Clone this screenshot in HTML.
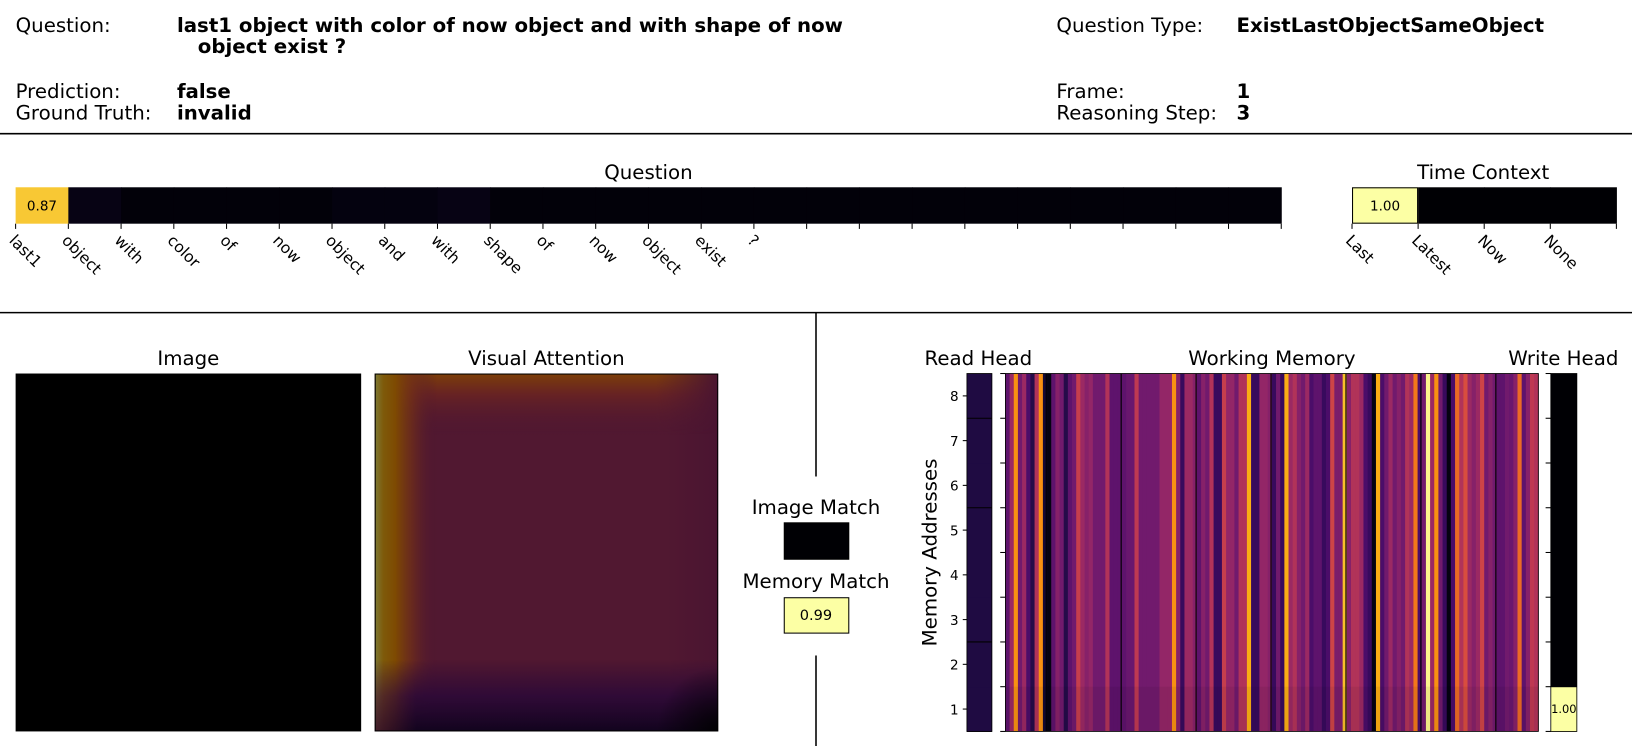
<!DOCTYPE html>
<html><head><meta charset="utf-8">
<style>
html,body{margin:0;padding:0;background:#fff;}
svg{display:block;font-family:"DejaVu Sans","Liberation Sans",sans-serif;}
</style></head>
<body>
<svg id="fig" width="1632" height="746" viewBox="0 0 1568 717" preserveAspectRatio="none" xmlns="http://www.w3.org/2000/svg">
<defs>
  <linearGradient id="gTop" x1="0" y1="0" x2="0" y2="1">
    <stop offset="0" stop-color="#7e4008" stop-opacity="1"/>
    <stop offset="0.06" stop-color="#6e2620" stop-opacity="0.75"/>
    <stop offset="0.17" stop-color="#511831" stop-opacity="0"/>
  </linearGradient>
  <linearGradient id="gTopFade" x1="0" y1="0" x2="1" y2="0">
    <stop offset="0" stop-color="#fff" stop-opacity="1"/>
    <stop offset="0.82" stop-color="#fff" stop-opacity="1"/>
    <stop offset="1" stop-color="#fff" stop-opacity="0"/>
  </linearGradient>
  <mask id="mTop"><rect x="360" y="359" width="330" height="344" fill="url(#gTopFade)"/></mask>
  <linearGradient id="gLeft" x1="0" y1="0" x2="1" y2="0">
    <stop offset="0" stop-color="#7d7a35"/>
    <stop offset="0.025" stop-color="#7e5a0a"/>
    <stop offset="0.06" stop-color="#7e4a02"/>
    <stop offset="0.11" stop-color="#713018" stop-opacity="0.7"/>
    <stop offset="0.18" stop-color="#511831" stop-opacity="0"/>
  </linearGradient>
  <linearGradient id="gLeftFade" x1="0" y1="0" x2="0" y2="1">
    <stop offset="0" stop-color="#fff"/>
    <stop offset="0.8" stop-color="#fff"/>
    <stop offset="1" stop-color="#fff" stop-opacity="0.2"/>
  </linearGradient>
  <mask id="mLeft"><rect x="360" y="359" width="330" height="344" fill="url(#gLeftFade)"/></mask>
  <linearGradient id="gBot" x1="0" y1="0" x2="0" y2="1">
    <stop offset="0.8" stop-color="#2a0838" stop-opacity="0"/>
    <stop offset="0.9" stop-color="#2a0838" stop-opacity="0.85"/>
    <stop offset="1" stop-color="#12041e" stop-opacity="1"/>
  </linearGradient>
  <linearGradient id="gBotFade" x1="0" y1="0" x2="1" y2="0">
    <stop offset="0" stop-color="#fff" stop-opacity="0.3"/>
    <stop offset="0.12" stop-color="#fff" stop-opacity="1"/>
    <stop offset="1" stop-color="#fff" stop-opacity="1"/>
  </linearGradient>
  <mask id="mBot"><rect x="360" y="359" width="330" height="344" fill="url(#gBotFade)"/></mask>
  <linearGradient id="gRight" x1="0" y1="0" x2="1" y2="0">
    <stop offset="0.85" stop-color="#3a0c30" stop-opacity="0"/>
    <stop offset="1" stop-color="#3a0c30" stop-opacity="0.3"/>
  </linearGradient>
  <radialGradient id="gBR" cx="1" cy="1" r="0.18">
    <stop offset="0" stop-color="#000" stop-opacity="0.9"/>
    <stop offset="1" stop-color="#000" stop-opacity="0"/>
  </radialGradient>
</defs>

<g font-size="19">
  <text x="15" y="31">Question:</text>
  <text x="170" y="31" font-weight="bold">last1 object with color of now object and with shape of now</text>
  <text x="190" y="51" font-weight="bold">object exist ?</text>
  <text x="15" y="94">Prediction:</text>
  <text x="170" y="94" font-weight="bold">false</text>
  <text x="15" y="115">Ground Truth:</text>
  <text x="170" y="115" font-weight="bold">invalid</text>
  <text x="1015" y="31">Question Type:</text>
  <text x="1188" y="31" font-weight="bold">ExistLastObjectSameObject</text>
  <text x="1015" y="94">Frame:</text>
  <text x="1188" y="94" font-weight="bold">1</text>
  <text x="1015" y="115">Reasoning Step:</text>
  <text x="1188" y="115" font-weight="bold">3</text>
</g>
<line x1="0" y1="128.5" x2="1568" y2="128.5" stroke="#000" stroke-width="1.5"/>
<line x1="0" y1="300.5" x2="1568" y2="300.5" stroke="#000" stroke-width="1.5"/>
<line x1="784" y1="300" x2="784" y2="458" stroke="#000" stroke-width="1.5"/>
<line x1="784" y1="630" x2="784" y2="717" stroke="#000" stroke-width="1.5"/>

<text x="623" y="172" font-size="19" text-anchor="middle">Question</text>
<g id="qbar"></g>
<text x="1425" y="172" font-size="19" text-anchor="middle">Time Context</text>
<g id="tbar"></g>

<text x="181" y="351" font-size="19" text-anchor="middle">Image</text>
<rect x="15.5" y="359.5" width="331" height="343" fill="#000" stroke="#000"/>

<text x="525" y="351" font-size="19" text-anchor="middle">Visual Attention</text>
<g>
  <rect x="360" y="359" width="330" height="344" fill="#511831"/>
  <rect x="360" y="359" width="330" height="344" fill="url(#gRight)"/>
  <rect x="360" y="359" width="330" height="344" fill="url(#gTop)" mask="url(#mTop)"/>
  <rect x="360" y="359" width="330" height="344" fill="url(#gLeft)" mask="url(#mLeft)"/>
  <rect x="360" y="359" width="330" height="344" fill="url(#gBot)" mask="url(#mBot)"/>
  <rect x="360" y="359" width="330" height="344" fill="url(#gBR)"/>
  <rect x="360.5" y="359.5" width="329" height="343" fill="none" stroke="#000"/>
</g>

<text x="784" y="494" font-size="19" text-anchor="middle">Image Match</text>
<rect x="753.5" y="502.5" width="62" height="35" fill="#000004" stroke="#000"/>
<text x="784" y="565" font-size="19" text-anchor="middle">Memory Match</text>
<rect x="753.5" y="574.5" width="62" height="34" fill="#fcffa4" stroke="#000"/>
<text x="784" y="596" font-size="14" text-anchor="middle">0.99</text>

<text x="940" y="351" font-size="19" text-anchor="middle">Read Head</text>
<text x="1222" y="351" font-size="19" text-anchor="middle">Working Memory</text>
<text x="1502" y="351" font-size="19" text-anchor="middle">Write Head</text>
<text x="0" y="0" font-size="19" text-anchor="middle" transform="translate(900,531) rotate(-90)">Memory Addresses</text>
<g id="mem"></g>
</svg>

<script>
const questionWords = ["last1","object","with","color","of","now","object","and","with","shape","of","now","object","exist","?"];
const questionAttention = [0.87,0.03,0.01,0.01,0.01,0.01,0.02,0.02,0.03,0.01,0.01,0.01,0.01,0.01,0.01,0.01,0.01,0.01,0.01,0.01,0.01,0.01,0.01,0.01];
const timeLabels = ["Last","Latest","Now","None"];
const timeAttention = [1.00,0.0,0.0,0.0];
const addressLabels = ["1","2","3","4","5","6","7","8"];
const readHead = [0.12,0.12,0.12,0.12,0.12,0.12,0.12,0.12];
const writeHead = [1.00,0.0,0.0,0.0,0.0,0.0,0.0,0.0];
const memoryColumns = [
0.35,0.5,0.8,0.4,0.5,0.3,0.2,0.55,0.8,0.15,0.05,0.35,0.45,0.4,0.2,0.35,0.4,0.6,0.5,0.45,0.48,0.4,0.4,0.4,0.55,0.35,0.35,0.35,
0.35,0.38,0.38,0.58,0.4,0.4,0.4,0.4,0.4,0.48,0.48,0.48,0.8,0.45,0.25,0.5,0.5,0.45,0.35,
0.45,0.4,0.55,0.25,0.25,0.6,0.48,0.48,0.4,0.55,0.55,0.85,0.25,0.25,0.48,0.48,0.45,0.25,0.4,0.25,0.85,0.5,0.55,0.45,0.4,0.5,0.3,0.35,0.35,0.25,0.3,0.62,0.42,0.42,0.88,0.45,0.55,0.55,0.5,0.3,0.25,0.05,0.85,0.3,0.4,
0.5,0.4,0.45,0.4,0.55,0.5,0.75,0.3,0.4,0.98,0.5,0.8,0.4,0.25,0.05,0.3,0.72,0.55,0.65,0.5,0.45,0.5,0.62,0.4,0.45,0.4,0.35,0.35,0.4,0.38,0.45,0.72,0.35,0.45,0.58,0.55];
const memorySeparators = [9.8,27.8,45.8,63.8,81.8,99.8,117.8];

const NS = "http://www.w3.org/2000/svg";
const stops = [[0,0,0,4],[0.1,22,11,57],[0.2,66,10,104],[0.3,106,23,110],[0.4,147,38,103],[0.5,188,55,84],[0.6,221,81,58],[0.7,243,120,25],[0.8,252,165,10],[0.9,246,215,70],[1,252,255,164]];
function inferno(v){
  v=Math.max(0,Math.min(1,v));
  for(let i=1;i<stops.length;i++){
    if(v<=stops[i][0]){
      const a=stops[i-1],b=stops[i],t=(v-a[0])/(b[0]-a[0]);
      return `rgb(${Math.round(a[1]+t*(b[1]-a[1]))},${Math.round(a[2]+t*(b[2]-a[2]))},${Math.round(a[3]+t*(b[3]-a[3]))})`;
    }
  }
  return "rgb(252,255,164)";
}
function memColor(v){ return inferno(Math.pow(Math.max(0,v),1.25)); }
function mk(tag, attrs, parent){
  const e=document.createElementNS(NS,tag);
  for(const k in attrs) e.setAttribute(k,attrs[k]);
  parent.appendChild(e); return e;
}

(function(){
  const g=document.getElementById('qbar');
  const x0=15,x1=1231,y0=180,h=35;
  const cw=(x1-x0)/questionAttention.length;
  const xs=i=>x0+i*cw;
  questionAttention.forEach((v,i)=>{
    const r=mk('rect',{x:xs(i),y:y0,width:cw+0.5,height:h,fill:inferno(v)},g);
    
    
    if(v>0.5){
      const t=mk('text',{x:xs(i)+cw/2,y:y0+h/2+5,'font-size':13,'text-anchor':'middle'},g);
      
      
      t.textContent=v.toFixed(2);
    }
  });
  for(let i=0;i<=questionAttention.length;i++){
    const l=mk('line',{x1:xs(i),y1:y0+h,x2:xs(i),y2:y0+h+5,stroke:'#000','stroke-width':1},g);
    
    
  }
  questionWords.forEach((w,i)=>{
    const t=mk('text',{x:0,y:0,'font-size':15,transform:`translate(${xs(i)-7},${y0+h+17}) rotate(45)`},g);
    
    
    t.textContent=w;
  });
})();

(function(){
  const g=document.getElementById('tbar');
  const x0=1299,x1=1553,y0=180,h=35;
  const cw=(x1-x0)/timeAttention.length;
  const xs=i=>x0+i*cw;
  timeAttention.forEach((v,i)=>{
    const r=mk('rect',{x:xs(i),y:y0,width:cw+0.5,height:h,fill:inferno(v)},g);
    
    
    if(v>0.5){
      const t=mk('text',{x:xs(i)+cw/2,y:y0+h/2+5,'font-size':13,'text-anchor':'middle'},g);
      
      
      t.textContent=v.toFixed(2);
    }
  });
  mk('rect',{x:x0+0.5,y:y0+0.5,width:cw-1,height:h-1,fill:'none',stroke:'#000'},g);
  for(let i=0;i<=timeAttention.length;i++){
    const l=mk('line',{x1:xs(i),y1:y0+h,x2:xs(i),y2:y0+h+5,stroke:'#000'},g);
    
    
  }
  timeLabels.forEach((w,i)=>{
    const t=mk('text',{x:0,y:0,'font-size':15,transform:`translate(${xs(i)-7},${y0+h+17}) rotate(45)`},g);
    
    
    t.textContent=w;
  });
})();

(function(){
  const g=document.getElementById('mem');
  const y0=359,y1=703,n=addressLabels.length,rh=(y1-y0)/n;
  const ys=i=>y1-(i+1)*rh;
  const rx=929,rw=24;
  readHead.forEach((v,i)=>{
    const r=mk('rect',{x:rx,y:ys(i),width:rw,height:rh+0.5,fill:inferno(v)},g);
    
    
  });
  [2,5,7].forEach(i=>{ mk('line',{x1:rx,x2:rx+rw,y1:y1-i*rh,y2:y1-i*rh,stroke:'#000','stroke-width':1},g); });
  mk('rect',{x:rx,y:y0,width:rw,height:y1-y0,fill:'none',stroke:'#000','stroke-width':0.8},g);
  addressLabels.forEach((a,i)=>{
    const cy=ys(i)+rh/2;
    mk('line',{x1:rx-4,x2:rx,y1:cy,y2:cy,stroke:'#000'},g);
    const t=mk('text',{x:rx-8,y:cy+5,'font-size':13,'text-anchor':'end'},g);
    
    
    t.textContent=a;
  });
  const mx0=966,mx1=1478,N=memoryColumns.length,cw=(mx1-mx0)/N;
  const xs=i=>mx0+i*cw;
  memoryColumns.forEach((v,i)=>{
    const r=mk('rect',{x:xs(i),y:y0,width:cw+0.4,height:y1-y0,fill:memColor(v)},g);
    
    
  });
  mk('rect',{x:mx0,y:y1-rh,width:mx1-mx0,height:rh,fill:'#000',opacity:0.06},g);
  memorySeparators.forEach(s=>{
    const l=mk('line',{x1:xs(s),x2:xs(s),y1:y0,y2:y1,stroke:'#000','stroke-width':1.1},g);
    
    
  });
  mk('rect',{x:mx0,y:y0,width:mx1-mx0,height:y1-y0,fill:'none',stroke:'#000','stroke-width':0.8},g);
  for(let i=0;i<=n;i++){ mk('line',{x1:mx0-5,x2:mx0,y1:y1-i*rh,y2:y1-i*rh,stroke:'#000'},g); }
  const wx=1490,ww=25;
  writeHead.forEach((v,i)=>{
    const r=mk('rect',{x:wx,y:ys(i),width:ww,height:rh+0.5,fill:inferno(v)},g);
    
    
    if(v>0.5){
      const t=mk('text',{x:wx+ww/2,y:ys(i)+rh/2+4,'font-size':11,'text-anchor':'middle'},g);
      
      
      t.textContent=v.toFixed(2);
    }
  });
  mk('rect',{x:wx,y:y0,width:ww,height:y1-y0,fill:'none',stroke:'#000','stroke-width':0.8},g);
  for(let i=0;i<=n;i++){ mk('line',{x1:wx-5,x2:wx,y1:y1-i*rh,y2:y1-i*rh,stroke:'#000'},g); }
})();
</script>
</body></html>
